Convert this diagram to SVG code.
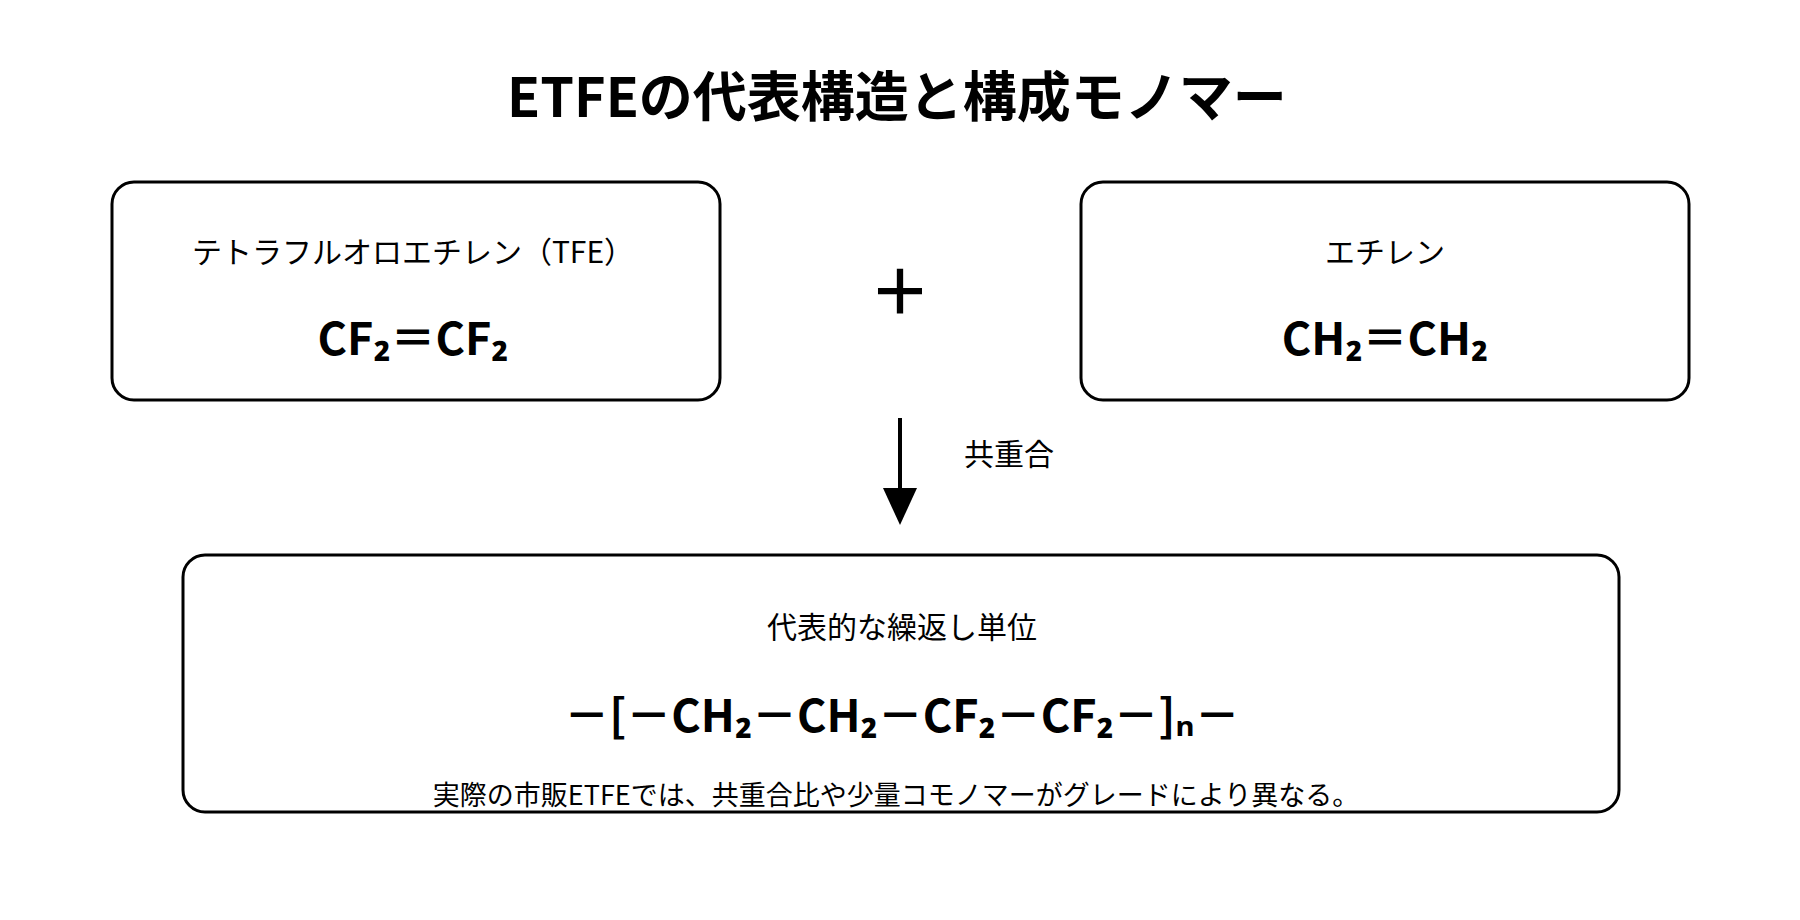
<svg xmlns="http://www.w3.org/2000/svg" width="1800" height="920" viewBox="0 0 1800 920">
<style>
text{font-family:"Noto Sans CJK JP","Noto Sans",sans-serif;fill:#000;text-anchor:middle}
.box{fill:#fff;stroke:#000;stroke-width:3}
.lab{font-size:30px}
.f{font-size:45px;font-weight:bold}
</style>
<rect width="1800" height="920" fill="#fff"/>
<text x="897" y="117" font-size="54" font-weight="bold">ETFEの代表構造と構成モノマー</text>
<g id="tfe"><rect class="box" x="112" y="182" width="608" height="218" rx="22"/>
<text class="lab" x="413" y="263">テトラフルオロエチレン（TFE）</text>
<text class="f" x="413" y="355">CF₂＝CF₂</text></g>
<g id="plus"><text x="900" y="315" font-size="62" font-weight="bold">＋</text></g>
<g id="eth"><rect class="box" x="1081" y="182" width="608" height="218" rx="22"/>
<text class="lab" x="1385" y="263">エチレン</text>
<text class="f" x="1385" y="355">CH₂＝CH₂</text></g>
<g id="connectors"><line x1="900" y1="418" x2="900" y2="490" stroke="#000" stroke-width="4"/>
<path d="M883,488L917,488L900,525z"/>
<text class="lab" x="1009" y="465">共重合</text></g>
<g id="unit"><rect class="box" x="183" y="555" width="1436" height="257" rx="22"/>
<text class="lab" x="902" y="638">代表的な繰返し単位</text>
<text class="f" x="902" y="732">－[－CH₂－CH₂－CF₂－CF₂－]ₙ－</text>
<text x="896" y="805" font-size="27">実際の市販ETFEでは、共重合比や少量コモノマーがグレードにより異なる。</text></g>
</svg>
